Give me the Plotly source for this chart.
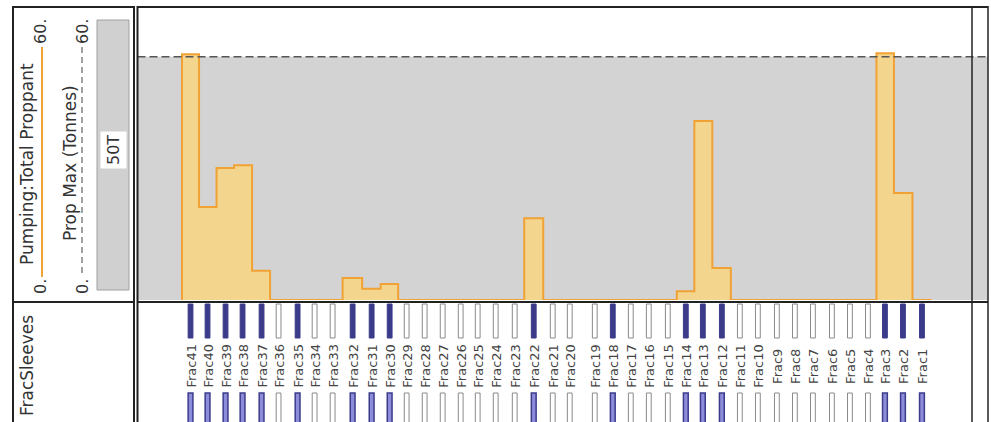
import plotly.graph_objects as go

# ---------------- data ----------------
sleeve_names = ["Frac%d" % i for i in range(41, 0, -1)]
sleeve_md = [2765, 2850, 2940, 3025, 3120, 3205, 3300, 3385, 3475, 3575,
             3670, 3760, 3845, 3935, 4025, 4115, 4200, 4290, 4385, 4480,
             4575, 4660, 4785, 4875, 4965, 5055, 5150, 5240, 5325, 5420,
             5510, 5600, 5695, 5785, 5875, 5970, 6060, 6150, 6235, 6325, 6420]
# 1 = stimulated sleeve (dark), 0 = open/unused sleeve (white)
sleeve_state = [1, 1, 1, 1, 1, 0, 1, 0, 0, 1,
                1, 1, 0, 0, 0, 0, 0, 0, 0, 1,
                0, 0, 0, 1, 0, 0, 0, 1, 1, 1,
                0, 0, 0, 0, 0, 0, 0, 0, 1, 1, 1]
total_proppant = [50.5, 19.1, 27.1, 27.7, 6.0, 0, 0, 0, 0, 4.5,
                  2.3, 3.3, 0, 0, 0, 0, 0, 0, 0, 16.8,
                  0, 0, 0, 0, 0, 0, 0, 1.8, 36.8, 6.6,
                  0, 0, 0, 0, 0, 0, 0, 0, 50.7, 22.0, 0]
prop_max = 50
prop_scale = [0, 60]
md_range = [2500, 6750]

# ---------------- helpers ----------------
W, H = 991, 422
def px(x):
    return x / W
def py(y):
    return 1 - y / H

# step edges from sleeve depths
n = len(sleeve_md)
edges = [sleeve_md[0] - (sleeve_md[1] - sleeve_md[0]) / 2]
for i in range(n - 1):
    edges.append((sleeve_md[i] + sleeve_md[i + 1]) / 2)
edges.append(sleeve_md[-1] + (sleeve_md[-1] - sleeve_md[-2]) / 2)
step_x = [edges[0]] + edges + [edges[-1]]
step_y = [0] + total_proppant + [total_proppant[-1], 0]

fig = go.Figure()

# prop max gray area
fig.add_trace(go.Scatter(x=md_range, y=[prop_max, prop_max], mode="lines",
                         fill="tozeroy", fillcolor="#d3d3d3",
                         line=dict(color="rgba(0,0,0,0)", width=0),
                         xaxis="x", yaxis="y", hoverinfo="skip"))
# total proppant step
fig.add_trace(go.Scatter(x=step_x, y=step_y, mode="lines", line_shape="hv",
                         fill="tozeroy", fillcolor="#f3d58e",
                         line=dict(color="#f0a235", width=2),
                         xaxis="x", yaxis="y", hoverinfo="skip"))
# prop max dashed line
fig.add_trace(go.Scatter(x=md_range, y=[prop_max, prop_max], mode="lines",
                         line=dict(color="#555555", width=1.5, dash="8px,4px"),
                         xaxis="x", yaxis="y", hoverinfo="skip"))

# sleeves
BAR_W = 24
dark_x = [m for m, s in zip(sleeve_md, sleeve_state) if s == 1]
open_x = [m for m, s in zip(sleeve_md, sleeve_state) if s == 0]
TOP_BASE, TOP_H = 84, 34
BOT_BASE, BOT_H = -5, 34
fig.add_trace(go.Bar(x=open_x, y=[TOP_H] * len(open_x), base=TOP_BASE, width=BAR_W,
                     marker=dict(color="white", line=dict(color="#8a8a8a", width=1)),
                     xaxis="x2", yaxis="y2", hoverinfo="skip"))
fig.add_trace(go.Bar(x=open_x, y=[BOT_H] * len(open_x), base=BOT_BASE, width=BAR_W,
                     marker=dict(color="white", line=dict(color="#8a8a8a", width=1)),
                     xaxis="x2", yaxis="y2", hoverinfo="skip"))
fig.add_trace(go.Bar(x=dark_x, y=[TOP_H] * len(dark_x), base=TOP_BASE, width=BAR_W,
                     marker=dict(color="#3b3b8a", line=dict(color="#3b3b8a", width=1)),
                     xaxis="x2", yaxis="y2", hoverinfo="skip"))
fig.add_trace(go.Bar(x=dark_x, y=[BOT_H] * len(dark_x), base=BOT_BASE, width=BAR_W,
                     marker=dict(color="#8c8cdb", line=dict(color="#3b3b8a", width=1.5)),
                     xaxis="x2", yaxis="y2", hoverinfo="skip"))

annotations = []
for name, m in zip(sleeve_names, sleeve_md):
    annotations.append(dict(x=m, y=56, xref="x2", yref="y2", text=name,
                            textangle=-90, showarrow=False,
                            xanchor="center", yanchor="middle",
                            font=dict(family="DejaVu Sans", size=13, color="#444444")))

txt = dict(family="DejaVu Sans", size=17, color="#333333")
def ann(x, y, text, font=txt, **kw):
    d = dict(x=px(x), y=py(y), xref="paper", yref="paper", text=text,
             textangle=-90, showarrow=False, font=font,
             xanchor="center", yanchor="middle")
    d.update(kw)
    annotations.append(d)

num = dict(family="DejaVu Sans", size=16, color="#333333")
ann(27, 164, "Pumping:Total Proppant")
ann(70, 163, "Prop Max (Tonnes)")
ann(40, 287, "0.", font=num)
ann(40, 32, "60.", font=num)
ann(82, 287, "0.", font=num)
ann(82, 32, "60.", font=num)
ann(113, 150, "50T", font=dict(family="DejaVu Sans", size=16, color="#333333"),
    bgcolor="white", borderpad=3)
ann(27, 366, "FracSleeves", font=dict(family="DejaVu Sans", size=17, color="#333333"))

shapes = []
def line(x0, y0, x1, y1, color="#222222", width=2, dash=None):
    d = dict(type="line", xref="paper", yref="paper",
             x0=px(x0), y0=py(y0), x1=px(x1), y1=py(y1),
             line=dict(color=color, width=width))
    if dash:
        d["line"]["dash"] = dash
    shapes.append(d)

# header gray box
shapes.append(dict(type="rect", xref="paper", yref="paper",
                   x0=px(97), x1=px(129), y0=py(290), y1=py(20),
                   fillcolor="#d0d0d0", line=dict(color="#a0a0a0", width=1),
                   layer="below"))
# legend lines
line(42, 47, 42, 277, color="#f0a235", width=2)
line(82, 47, 82, 277, color="#444444", width=1, dash="6px,4px")

# frame
line(13, 7, 134, 7)
line(137.5, 7, 988, 7)
line(13, 6, 13, 422)
line(134, 6, 134, 422)
line(137.5, 6, 137.5, 422)
line(13, 302, 134, 302)
line(137.5, 302, 988, 302)
line(972, 6, 972, 422, width=1.5)
line(988, 6, 988, 422, width=1.5)

ax_hidden = dict(visible=False, showgrid=False, zeroline=False, fixedrange=True)
fig.update_layout(
    width=W, height=H,
    margin=dict(l=0, r=0, t=0, b=0),
    paper_bgcolor="white", plot_bgcolor="white",
    showlegend=False, barmode="overlay",
    xaxis=dict(domain=[px(137.5), px(988)], range=md_range, anchor="y", **ax_hidden),
    yaxis=dict(domain=[py(300), py(8)], range=prop_scale, anchor="x", **ax_hidden),
    xaxis2=dict(domain=[px(137.5), px(988)], range=md_range, anchor="y2", matches="x", **ax_hidden),
    yaxis2=dict(domain=[0, py(303)], range=[0, 119], anchor="x2", **ax_hidden),
    annotations=annotations, shapes=shapes,
)

fig.write_html("out.html", config={"displayModeBar": False},
               post_script="document.body.style.margin='0px';document.body.style.overflow='hidden';")
